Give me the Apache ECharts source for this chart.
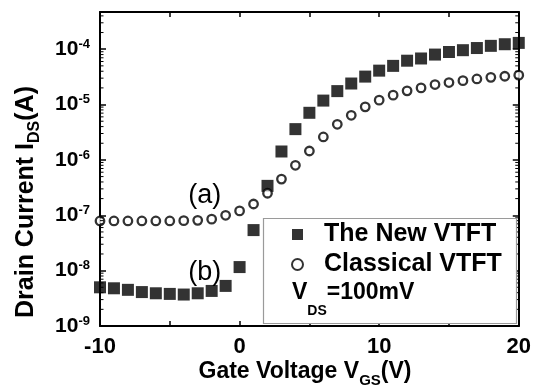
<!DOCTYPE html>
<html>
<head>
<meta charset="utf-8">
<script src="https://cdn.jsdelivr.net/npm/echarts@6/dist/echarts.min.js"></script>
<style>
  html, body { margin: 0; padding: 0; background: #fff; }
  #chart { width: 534px; height: 392px; }
</style>
</head>
<body>
<div id="chart"></div>
<script>
// Gate voltage sweep (V)
const vgs = [-10, -9, -8, -7, -6, -5, -4, -3, -2, -1, 0, 1, 2, 3, 4, 5, 6, 7, 8, 9, 10,
             11, 12, 13, 14, 15, 16, 17, 18, 19, 20];

// Drain current of the new vertical TFT (A)
const newVtft = [5.0e-9, 4.8e-9, 4.5e-9, 4.1e-9, 3.9e-9, 3.8e-9, 3.7e-9, 3.9e-9, 4.3e-9, 5.3e-9,
                 1.16e-8, 5.4e-8, 3.4e-7, 1.42e-6, 3.6e-6, 7.1e-6, 1.18e-5, 1.75e-5, 2.4e-5, 3.2e-5,
                 4.1e-5, 5.0e-5, 6.2e-5, 6.8e-5, 8.0e-5, 8.9e-5, 9.6e-5, 1.05e-4, 1.15e-4, 1.23e-4, 1.3e-4];

// Drain current of the classical vertical TFT (A)
const classicalVtft = [7.9e-8, 7.9e-8, 7.9e-8, 7.9e-8, 7.9e-8, 7.9e-8, 8.0e-8, 8.1e-8, 8.5e-8, 1.0e-7,
                       1.2e-7, 1.6e-7, 2.5e-7, 4.5e-7, 8.0e-7, 1.45e-6, 2.6e-6, 4.4e-6, 6.4e-6, 9.1e-6,
                       1.2e-5, 1.48e-5, 1.77e-5, 2.0e-5, 2.3e-5, 2.5e-5, 2.7e-5, 2.9e-5, 3.1e-5, 3.25e-5, 3.4e-5];

const seriesNames = ['The New VTFT', 'Classical VTFT'];

// Axis ranges and tick layout
const xMin = -10, xMax = 20, xLabelStep = 10, xTickStep = 5;
const yMin = 1e-9, yMax = 4.7e-4;
const yDecadeExps = [-9, -8, -7, -6, -5, -4];

// Annotation labels placed at data coordinates
const notes = [
  { text: '(a)', at: [-2.5, 2.3e-7] },
  { text: '(b)', at: [-2.5, 9.4e-9] }
];

const FONT = '"Liberation Sans", Arial, Helvetica, sans-serif';

// Log minor tick positions (2..9 within each decade)
const minorVals = [];
yDecadeExps.forEach(e => {
  for (let k = 2; k <= 9; k++) {
    const v = k * Math.pow(10, e);
    if (v < yMax) minorVals.push(v);
  }
});

const toPairs = ys => vgs.map((x, i) => [x, ys[i]]);

const chart = echarts.init(document.getElementById('chart'), null, { renderer: 'canvas' });

function yAxis(position) {
  return {
    type: 'log', logBase: 10, min: yMin, max: yMax, position: position,
    axisLine: { show: true, onZero: false, lineStyle: { color: '#000', width: 2 } },
    axisTick: { show: true, inside: true, length: 6, lineStyle: { color: '#000', width: 1.5 } },
    axisLabel: { show: false },
    splitLine: { show: false }
  };
}

const option = {
  animation: false,
  backgroundColor: '#fff',
  textStyle: { fontFamily: FONT },
  grid: { left: 100, right: 12, top: 12, bottom: 66, containLabel: false },
  xAxis: [
    {
      type: 'value', min: xMin, max: xMax, interval: xLabelStep, position: 'bottom',
      axisLine: { show: true, onZero: false, lineStyle: { color: '#000', width: 2 } },
      axisTick: { show: true, inside: true, length: 5, lineStyle: { color: '#000', width: 1.5 } },
      minorTick: { show: true, splitNumber: xLabelStep / xTickStep, length: 5, lineStyle: { color: '#000', width: 1.5 } },
      axisLabel: { show: true, margin: 10, fontSize: 22, fontWeight: 'bold', color: '#000', fontFamily: FONT },
      splitLine: { show: false }
    },
    {
      type: 'value', min: xMin, max: xMax, interval: xTickStep, position: 'top',
      axisLine: { show: true, onZero: false, lineStyle: { color: '#000', width: 2 } },
      axisTick: { show: true, inside: true, length: 5, lineStyle: { color: '#000', width: 1.5 } },
      axisLabel: { show: false },
      splitLine: { show: false }
    }
  ],
  yAxis: [yAxis('left'), yAxis('right')],
  legend: {
    orient: 'vertical',
    left: 291, top: 222,
    padding: 0,
    itemWidth: 11, itemHeight: 11, itemGap: 5,
    data: [
      { name: seriesNames[0], icon: 'rect' },
      { name: seriesNames[1], icon: 'circle' }
    ],
    formatter: name => '{t|' + name + '}',
    textStyle: {
      rich: {
        t: { fontSize: 25, fontWeight: 'bold', fontFamily: FONT, color: '#000', lineHeight: 26, padding: [0, 0, 0, 16] }
      }
    },
    z: 10
  },
  series: [
    {
      name: seriesNames[0], type: 'scatter', xAxisIndex: 0, yAxisIndex: 0,
      symbol: 'rect', symbolSize: 12, clip: false,
      itemStyle: { color: '#000' },
      data: toPairs(newVtft), z: 3
    },
    {
      name: seriesNames[1], type: 'scatter', xAxisIndex: 0, yAxisIndex: 0,
      symbol: 'circle', symbolSize: 8.5, clip: false,
      itemStyle: { color: '#fff', borderColor: '#000', borderWidth: 2.3 },
      data: toPairs(classicalVtft), z: 3
    },
    {
      // minor log ticks on the left and right frame edges
      type: 'custom', xAxisIndex: 0, yAxisIndex: 0, silent: true, clip: false, z: 4,
      data: minorVals.map(v => [xMin, v]),
      renderItem: (params, api) => {
        const v = api.value(1);
        const l = api.coord([xMin, v]);
        const r = api.coord([xMax, v]);
        const st = { stroke: '#000', lineWidth: 1 };
        return {
          type: 'group',
          children: [
            { type: 'line', shape: { x1: l[0], y1: l[1], x2: l[0] + 3.5, y2: l[1] }, style: st },
            { type: 'line', shape: { x1: r[0] - 3.5, y1: r[1], x2: r[0], y2: r[1] }, style: st }
          ]
        };
      }
    }
  ]
};

chart.setOption(option);

// Decade labels, titles, legend frame, bias note and curve annotations
const graphics = [
  {
    type: 'rect', z: 5,
    shape: { x: 263.5, y: 218.5, width: 253, height: 105 },
    style: { fill: '#fff', stroke: '#9a9a9a', lineWidth: 1.2 }
  },
  {
    type: 'text', z: 20, x: 292, y: 293,
    style: {
      text: '{m|V}{d|DS}{m|=100mV}',
      align: 'left', verticalAlign: 'middle',
      rich: {
        m: { fontSize: 23, fontWeight: 'bold', fontFamily: FONT, fill: '#000', lineHeight: 50 },
        d: { fontSize: 14, fontWeight: 'bold', fontFamily: FONT, fill: '#000', lineHeight: 14, verticalAlign: 'bottom' }
      }
    }
  },
  {
    type: 'text', z: 20, x: 305, y: 372,
    style: {
      text: '{m|Gate Voltage V}{d|GS}{m|(V)}',
      align: 'center', verticalAlign: 'middle',
      rich: {
        m: { fontSize: 23, fontWeight: 'bold', fontFamily: FONT, fill: '#000', lineHeight: 32 },
        d: { fontSize: 15, fontWeight: 'bold', fontFamily: FONT, fill: '#000', lineHeight: 14, verticalAlign: 'bottom' }
      }
    }
  },
  {
    type: 'text', z: 20, x: 26, y: 202, rotation: Math.PI / 2,
    style: {
      text: '{m|Drain Current I}{d|DS}{m|(A)}',
      align: 'center', verticalAlign: 'middle',
      rich: {
        m: { fontSize: 25, fontWeight: 'bold', fontFamily: FONT, fill: '#000', lineHeight: 34 },
        d: { fontSize: 16, fontWeight: 'bold', fontFamily: FONT, fill: '#000', lineHeight: 15, verticalAlign: 'bottom' }
      }
    }
  }
];

// 10^n labels beside the left axis
yDecadeExps.forEach(e => {
  const p = chart.convertToPixel({ xAxisIndex: 0, yAxisIndex: 0 }, [xMin, Math.pow(10, e)]);
  graphics.push({
    type: 'text', z: 20, x: p[0] - 10, y: p[1],
    style: {
      text: '{b|10}{s|' + e + '}',
      align: 'right', verticalAlign: 'middle',
      rich: {
        b: { fontSize: 21, fontWeight: 'bold', fontFamily: FONT, fill: '#000', lineHeight: 23 },
        s: { fontSize: 13, fontWeight: 'bold', fontFamily: FONT, fill: '#000', lineHeight: 13, verticalAlign: 'top' }
      }
    }
  });
});

notes.forEach(n => {
  const p = chart.convertToPixel({ xAxisIndex: 0, yAxisIndex: 0 }, n.at);
  graphics.push({
    type: 'text', z: 20, x: p[0], y: p[1],
    style: {
      text: n.text, align: 'center', verticalAlign: 'middle',
      fontSize: 27, fontWeight: 'normal', fontFamily: FONT, fill: '#000'
    }
  });
});

chart.setOption({ graphic: graphics });
</script>
</body>
</html>
